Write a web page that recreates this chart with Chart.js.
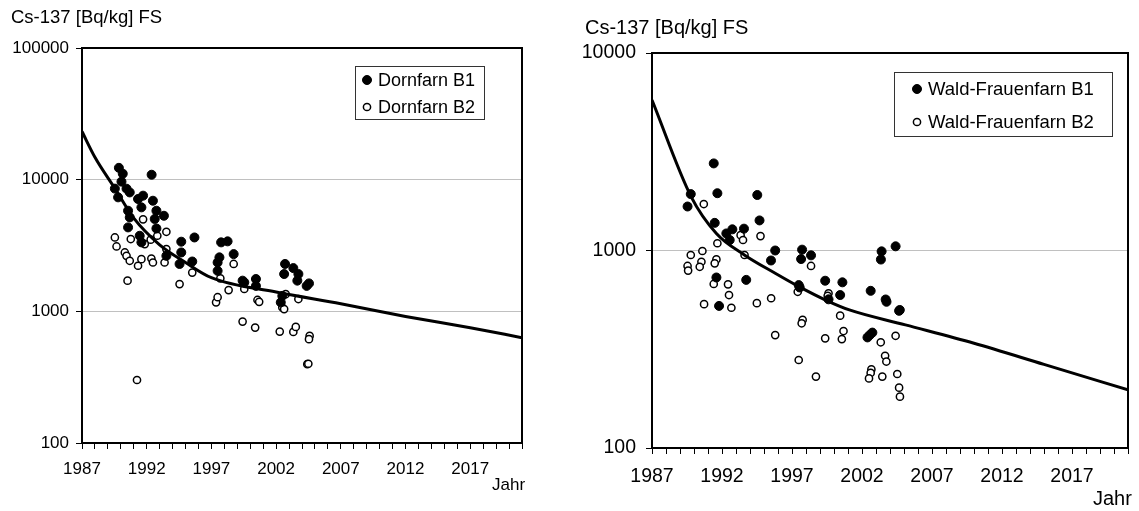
<!DOCTYPE html>
<html>
<head>
<meta charset="utf-8">
<script src="https://cdn.jsdelivr.net/npm/chart.js@4/dist/chart.umd.min.js"></script>
<style>
    body { margin: 0; background: #fff; width: 1139px; height: 511px; overflow: hidden; position: relative; }
    .panel { position: absolute; top: 0; height: 511px; }
    #left-panel { left: 0; width: 560px; }
    #right-panel { left: 560px; width: 579px; }
</style>
</head>
<body>
<div class="panel" id="left-panel"><canvas id="chart-left"></canvas></div>
<div class="panel" id="right-panel"><canvas id="chart-right"></canvas></div>
<script>
// Axis ticks (both panels)
const yearTicks = [1987, 1988, 1989, 1990, 1991, 1992, 1993, 1994, 1995, 1996, 1997, 1998, 1999, 2000,
    2001, 2002, 2003, 2004, 2005, 2006, 2007, 2008, 2009, 2010, 2011, 2012, 2013, 2014, 2015, 2016,
    2017, 2018, 2019, 2020, 2021];
const yearLabels = [1987, 1992, 1997, 2002, 2007, 2012, 2017];
const leftValueTicks = [100, 1000, 10000, 100000];
const rightValueTicks = [100, 1000, 10000];

// Dornfarn (left panel)
const dornB1Years = [1989.85, 1990.15, 1992.38, 1990.05, 1989.54, 1990.44, 1989.79, 1990.69, 1991.33, 1991.72,
    1992.48, 1991.59, 1992.75, 1990.56, 1990.69, 1993.33, 1992.62, 1990.56, 1992.75, 1991.46,
    1991.59, 1994.67, 1993.52, 1994.67, 1994.54, 1995.69, 1995.52, 1997.75, 1998.25, 1997.62,
    1998.72, 1997.48, 1997.48, 1999.54, 2000.44, 2000.44, 1999.41, 2002.36, 2002.48, 2002.69,
    2002.62, 2003.33, 2003.72, 2003.64, 2004.54, 2004.36];
const dornB1Values = [12300, 11100, 10900, 9660, 8550, 8540, 7340, 8000, 7130, 7560,
    6920, 6160, 5810, 5810, 5170, 5320, 5030, 4340, 4260, 3750,
    3340, 3380, 2640, 2800, 2290, 3640, 2390, 3340, 3400, 2570,
    2720, 2350, 2030, 1660, 1760, 1560, 1710, 1170, 1310, 2290,
    1920, 2130, 1920, 1710, 1630, 1560];
const dornB2Years = [1991.72, 1993.52, 1989.54, 1990.77, 1992.82, 1989.67, 1992.31, 1991.85, 1993.52, 1990.31,
    1990.44, 1990.69, 1991.59, 1992.36, 1992.48, 1993.38, 1991.33, 1990.52, 1994.54, 1995.52,
    1991.25, 1997.36, 1997.48, 1998.33, 1998.72, 1997.69, 1999.41, 2000.38, 2000.56, 2000.69,
    1999.54, 2002.28, 2002.74, 2002.48, 2002.62, 2003.72, 2003.33, 2003.52, 2004.59, 2004.54,
    2004.41, 2004.49];
const dornB2Values = [5000, 4020, 3640, 3540, 3750, 3110, 3500, 3240, 2970, 2800,
    2640, 2420, 2490, 2520, 2350, 2350, 2220, 1710, 1610, 1970,
    301, 1170, 1280, 1450, 2290, 1780, 836, 753, 1220, 1180,
    1480, 702, 1350, 1070, 1040, 1240, 698, 762, 651, 615,
    397, 400];
const dornCurveYears = [1987, 1988, 1989.5, 1991, 1993, 1995, 1997, 2002, 2007, 2012, 2017, 2021];
const dornCurveValues = [23200, 14800, 8700, 5100, 3200, 2350, 1800, 1400, 1140, 915, 750, 631];

// Wald-Frauenfarn (right panel)
const waldB1Years = [1991.41, 1989.77, 1991.67, 1989.54, 1994.52, 1991.48, 1994.68, 1992.74, 1992.31, 1992.55,
    1993.57, 1995.8, 1995.5, 1997.72, 1998.36, 1997.65, 1991.6, 1991.79, 1993.73, 1997.48,
    1997.55, 1999.37, 1999.61, 2000.6, 2000.44, 2003.4, 2004.4, 2003.35, 2002.62, 2003.69,
    2003.75, 2004.65, 2004.7, 2002.39, 2002.55, 2002.74];
const waldB1Values = [2760, 1930, 1950, 1670, 1910, 1380, 1420, 1280, 1220, 1130,
    1290, 1000, 890, 1010, 945, 905, 730, 524, 710, 668,
    650, 703, 566, 690, 595, 990, 1050, 900, 625, 565,
    550, 495, 500, 363, 373, 384];
const waldB2Years = [1989.77, 1989.54, 1989.58, 1990.6, 1990.53, 1990.41, 1991.6, 1991.48, 1991.41, 1992.43,
    1992.5, 1990.72, 1992.67, 1994.49, 1993.61, 1995.51, 1995.8, 1997.41, 1997.76, 1997.69,
    1997.48, 1998.71, 1998.36, 1999.37, 1999.61, 1999.55, 2000.44, 2000.68, 2000.56, 1993.33,
    1993.5, 1994.75, 1990.7, 1991.67, 2003.34, 2004.4, 2003.65, 2003.74, 2002.67, 2002.62,
    2002.5, 2003.45, 2004.52, 2004.65, 2004.71];
const waldB2Values = [949, 835, 791, 994, 877, 827, 901, 861, 677, 674,
    595, 535, 513, 541, 949, 573, 373, 618, 445, 428,
    279, 230, 835, 359, 607, 590, 468, 391, 356, 1196,
    1130, 1183, 1719, 1088, 343, 370, 293, 274, 250, 240,
    225, 230, 237, 202, 182];
const waldCurveYears = [1987, 1989.8, 1991.6, 1993.6, 1995.8, 1997.5, 1999.4, 2001.1, 2005.1, 2010, 2015, 2021];
const waldCurveValues = [5780, 1870, 1220, 950, 767, 656, 561, 500, 420, 339, 265, 197];

const FONT = '"Liberation Sans", Arial, sans-serif';

const toPoints = (xs, ys) => xs.map((x, i) => ({ x: x, y: ys[i] }));

// Frame, axis captions and the boxed legend inside the plot
const decorPlugin = {
    id: 'decor',
    afterDraw(chart, args, opts) {
        const ctx = chart.ctx;
        const a = chart.chartArea;
        ctx.save();
        ctx.strokeStyle = '#000';
        ctx.lineWidth = 2;
        ctx.strokeRect(a.left, a.top, a.right - a.left, a.bottom - a.top);

        ctx.fillStyle = '#000';
        ctx.textBaseline = 'middle';
        ctx.textAlign = 'left';
        ctx.font = opts.titleSize + 'px ' + FONT;
        ctx.fillText(opts.yTitle, opts.yTitlePos[0], opts.yTitlePos[1]);
        ctx.font = opts.jahrSize + 'px ' + FONT;
        ctx.fillText('Jahr', opts.jahrPos[0], opts.jahrPos[1]);

        const L = opts.legend;
        ctx.fillStyle = '#fff';
        ctx.fillRect(L.x, L.y, L.w, L.h);
        ctx.strokeStyle = '#333';
        ctx.lineWidth = 1;
        ctx.strokeRect(L.x + 0.5, L.y + 0.5, L.w, L.h);
        ctx.font = L.size + 'px ' + FONT;
        const items = chart.data.datasets.filter(d => !d.showLine);
        items.forEach((d, i) => {
            const y = L.rows[i];
            ctx.beginPath();
            ctx.arc(L.markerX, y, d.pointRadius, 0, Math.PI * 2);
            ctx.fillStyle = d.backgroundColor;
            ctx.fill();
            ctx.lineWidth = d.borderWidth;
            ctx.strokeStyle = '#000';
            ctx.stroke();
            ctx.fillStyle = '#000';
            ctx.fillText(d.label, L.textX, y + 1);
        });
        ctx.restore();
    }
};

function makePanel(canvasId, cfg) {
    const datasets = [{
        label: 'Kurve',
        data: toPoints(cfg.curveYears, cfg.curveValues),
        showLine: true,
        borderColor: '#000',
        borderWidth: 3,
        pointRadius: 0,
        cubicInterpolationMode: 'monotone'
    }, {
        label: cfg.names[0],
        data: toPoints(cfg.b1Years, cfg.b1Values),
        backgroundColor: '#000',
        borderColor: '#000',
        borderWidth: 1,
        pointRadius: 4.5
    }, {
        label: cfg.names[1],
        data: toPoints(cfg.b2Years, cfg.b2Values),
        backgroundColor: '#fff',
        borderColor: '#000',
        borderWidth: 1.5,
        pointRadius: 3.6
    }];

    return new Chart(document.getElementById(canvasId).getContext('2d'), {
        type: 'scatter',
        data: { datasets: datasets },
        plugins: [decorPlugin],
        options: {
            responsive: true,
            maintainAspectRatio: false,
            devicePixelRatio: 1,
            animation: false,
            layout: { padding: cfg.padding },
            plugins: {
                legend: { display: false },
                tooltip: { enabled: false },
                decor: cfg.decor
            },
            scales: {
                x: {
                    type: 'linear',
                    min: 1987,
                    max: 2021,
                    afterBuildTicks: (scale) => { scale.ticks = yearTicks.map(v => ({ value: v })); },
                    afterFit: (scale) => { scale.height = cfg.xHeight; },
                    ticks: {
                        autoSkip: false,
                        maxRotation: 0,
                        color: '#000',
                        padding: cfg.xPad,
                        font: { family: FONT, size: cfg.tickSize },
                        callback: (v) => yearLabels.includes(v) ? String(v) : ''
                    },
                    grid: { drawOnChartArea: false, tickColor: '#000', tickLength: 6 },
                    border: { color: '#000', width: 2 }
                },
                y: {
                    type: 'logarithmic',
                    min: 100,
                    max: cfg.yMax,
                    afterBuildTicks: (scale) => { scale.ticks = cfg.yTicks.map(v => ({ value: v })); },
                    afterFit: (scale) => { scale.width = cfg.yWidth; },
                    ticks: {
                        color: '#000',
                        padding: cfg.yPad,
                        font: { family: FONT, size: cfg.tickSize },
                        callback: (v) => String(v)
                    },
                    grid: { color: '#c0c0c0', tickColor: '#000', tickLength: 6 },
                    border: { color: '#000', width: 2 }
                }
            }
        }
    });
}

document.addEventListener('DOMContentLoaded', function() {
    if (typeof Chart === 'undefined') {
        console.error('Chart.js is not loaded.');
        return;
    }

    makePanel('chart-left', {
        names: ['Dornfarn B1', 'Dornfarn B2'],
        b1Years: dornB1Years, b1Values: dornB1Values,
        b2Years: dornB2Years, b2Values: dornB2Values,
        curveYears: dornCurveYears, curveValues: dornCurveValues,
        yMax: 100000, yTicks: leftValueTicks,
        padding: { top: 48, right: 38, left: 0, bottom: 0 },
        xHeight: 68, yWidth: 82, xPad: 10, yPad: 7, tickSize: 17,
        decor: {
            yTitle: 'Cs-137 [Bq/kg] FS', yTitlePos: [11, 18], titleSize: 18.5,
            jahrPos: [492, 485], jahrSize: 17,
            legend: { x: 355, y: 66, w: 129, h: 53, rows: [80, 107], markerX: 367, textX: 378, size: 18 }
        }
    });

    makePanel('chart-right', {
        names: ['Wald-Frauenfarn B1', 'Wald-Frauenfarn B2'],
        b1Years: waldB1Years, b1Values: waldB1Values,
        b2Years: waldB2Years, b2Values: waldB2Values,
        curveYears: waldCurveYears, curveValues: waldCurveValues,
        yMax: 10000, yTicks: rightValueTicks,
        padding: { top: 53, right: 9, left: 0, bottom: 0 },
        xHeight: 63, yWidth: 92, xPad: 11, yPad: 10, tickSize: 19.5,
        decor: {
            yTitle: 'Cs-137 [Bq/kg] FS', yTitlePos: [25, 28], titleSize: 20,
            jahrPos: [533, 499], jahrSize: 20,
            legend: { x: 334, y: 72, w: 218, h: 64, rows: [89, 122], markerX: 357, textX: 368, size: 18.5 }
        }
    });
});
</script>
</body>
</html>
